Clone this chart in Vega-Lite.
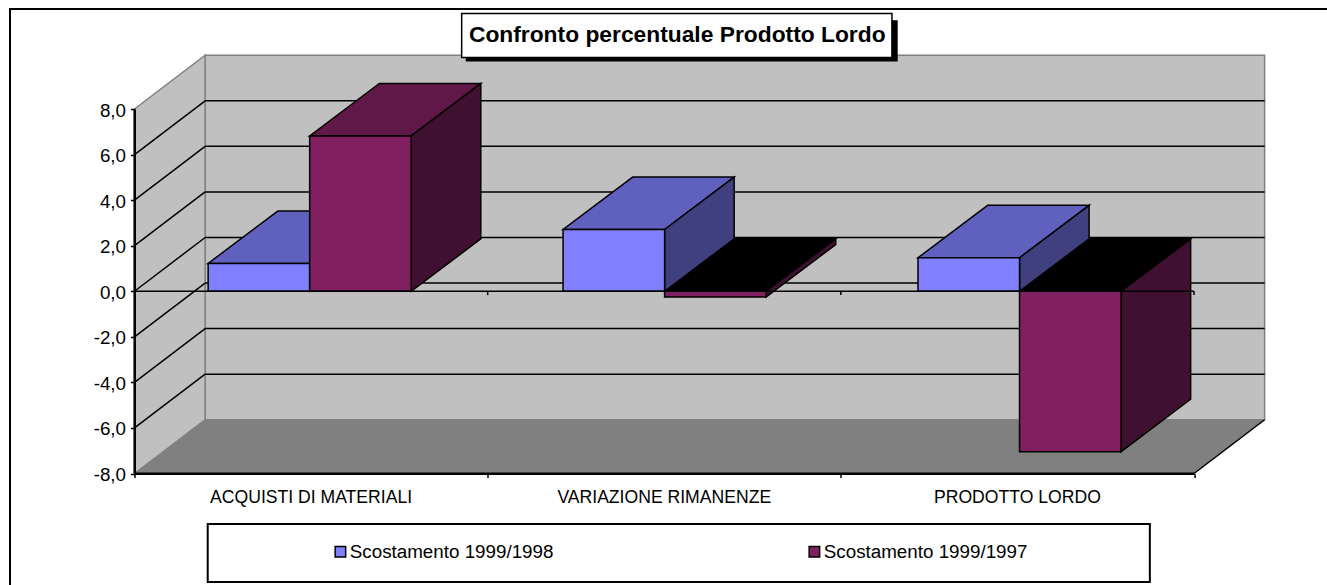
{
"$schema":"https://vega.github.io/schema/vega-lite/v6.json",
"width":1059.5,"height":364.5,
"autosize":{"type":"none"},
"padding":{"left":134.5,"top":109,"right":133,"bottom":111.5},
"background":"white",
"config":{"view":{"stroke":null},"font":"Liberation Sans"},
"title":{"text":"Confronto percentuale Prodotto Lordo","anchor":"middle","frame":"group","dx":13,"offset":-39,"font":"Liberation Sans","fontWeight":"bold","fontSize":22.8,"color":"black"},
"datasets":{
"bars":[
{"categoria":"ACQUISTI DI MATERIALI","serie":"Scostamento 1999/1998","valore":1.22},
{"categoria":"ACQUISTI DI MATERIALI","serie":"Scostamento 1999/1997","valore":6.82},
{"categoria":"VARIAZIONE RIMANENZE","serie":"Scostamento 1999/1998","valore":2.71},
{"categoria":"VARIAZIONE RIMANENZE","serie":"Scostamento 1999/1997","valore":-0.25},
{"categoria":"PRODOTTO LORDO","serie":"Scostamento 1999/1998","valore":1.47},
{"categoria":"PRODOTTO LORDO","serie":"Scostamento 1999/1997","valore":-7.04}
],
"livelli":[{"v":-6},{"v":-4},{"v":-2},{"v":0},{"v":2},{"v":4},{"v":6}],
"estremi":[{"t":0},{"t":1}],
"tacche":[{"c":1},{"c":2},{"c":3}],
"uno":[{"t":0}]
},
"data":{"name":"bars"},
"transform":[
{"calculate":"indexof(['ACQUISTI DI MATERIALI','VARIAZIONE RIMANENZE','PRODOTTO LORDO'],datum.categoria)","as":"i"},
{"calculate":"indexof(['Scostamento 1999/1998','Scostamento 1999/1997'],datum.serie)","as":"s"},
{"calculate":"0.2085+1.005*datum.i+0.2875*datum.s","as":"x0"},
{"calculate":"datum.x0+0.2875","as":"x1"},
{"calculate":"max(datum.valore,0)","as":"alto"},
{"calculate":"min(datum.valore,0)","as":"basso"}
],
"layer":[
{"data":{"name":"uno"},"mark":{"type":"rect","fill":"white","stroke":"black","strokeWidth":2},
"encoding":{
"x":{"datum":-0.3525,"scale":{"domain":[0,3],"nice":false,"zero":false},"axis":{"values":[0,1,2,3],"labels":false,"title":null,"grid":false,"domain":true,"domainColor":"black","domainWidth":2,"tickColor":"black","tickWidth":1.5,"tickSize":4,"zindex":1}},
"x2":{"datum":3.42},
"y":{"datum":12.39,"scale":{"domain":[-8,8],"nice":false,"zero":false},"axis":{"values":[-8,-6,-4,-2,0,2,4,6,8],"labelExpr":"replace(replace(format(datum.value,'.1f'),'.',','),'−','-')","title":null,"grid":false,"domain":true,"domainColor":"black","domainWidth":2,"tickColor":"black","tickWidth":1.5,"tickSize":4,"labelFont":"Liberation Sans","labelFontSize":18.8,"labelColor":"black","labelPadding":5,"labelOffset":1,"zindex":1}},
"y2":{"datum":-13.6}}},
{"data":{"name":"uno"},"mark":{"type":"rect","fill":"#C0C0C0","stroke":"#808080","strokeWidth":1.5},
"encoding":{
"x":{"datum":0.2,"scale":{"domain":[0,3],"nice":false,"zero":false}},"x2":{"datum":3.2},
"y":{"datum":10.36,"scale":{"domain":[-8,8],"nice":false,"zero":false}},"y2":{"datum":-5.64}}},
{"data":{"name":"estremi"},"transform":[{"calculate":"0.2*datum.t","as":"xp"},{"calculate":"-8+2.36*datum.t","as":"yb"},{"calculate":"8+2.36*datum.t","as":"ya"}],
"mark":{"type":"area","fill":"#C0C0C0","stroke":"#808080","strokeWidth":1.5},
"encoding":{
"x":{"field":"xp","type":"quantitative","scale":{"domain":[0,3],"nice":false,"zero":false}},
"y":{"field":"ya","type":"quantitative","scale":{"domain":[-8,8],"nice":false,"zero":false},"stack":null},
"y2":{"field":"yb"}}},
{"data":{"name":"estremi"},"transform":[{"calculate":"0.2*datum.t","as":"xa"},{"calculate":"3+0.2*datum.t","as":"xb"},{"calculate":"-8+2.36*datum.t","as":"yp"}],
"mark":{"type":"area","orient":"horizontal","fill":"#808080","stroke":"#808080","strokeWidth":1},
"encoding":{
"y":{"field":"yp","type":"quantitative","scale":{"domain":[-8,8],"nice":false,"zero":false}},
"x":{"field":"xa","type":"quantitative","scale":{"domain":[0,3],"nice":false,"zero":false},"stack":null},
"x2":{"field":"xb"}}},
{"data":{"name":"uno"},"mark":{"type":"rule","stroke":"black","strokeWidth":1.5},
"encoding":{
"x":{"datum":3,"scale":{"domain":[0,3],"nice":false,"zero":false}},"x2":{"datum":3.2},
"y":{"datum":-8,"scale":{"domain":[-8,8],"nice":false,"zero":false}},"y2":{"datum":-5.64}}},
{"data":{"name":"livelli"},"transform":[{"calculate":"datum.v+2.36","as":"vb"}],"mark":{"type":"rule","stroke":"black","strokeWidth":1.5},
"encoding":{
"x":{"datum":0.2,"scale":{"domain":[0,3],"nice":false,"zero":false}},"x2":{"datum":3.2},
"y":{"field":"vb","type":"quantitative","scale":{"domain":[-8,8],"nice":false,"zero":false}}}},
{"data":{"name":"livelli"},"transform":[{"calculate":"datum.v+2.36","as":"vb"}],"mark":{"type":"rule","stroke":"black","strokeWidth":1.5},
"encoding":{
"x":{"datum":0,"scale":{"domain":[0,3],"nice":false,"zero":false}},"x2":{"datum":0.2},
"y":{"field":"v","type":"quantitative","scale":{"domain":[-8,8],"nice":false,"zero":false}},"y2":{"field":"vb"}}},
{"transform":[{"calculate":"[0,1]","as":"t"},{"flatten":["t"]},{"calculate":"datum.alto+2.3*datum.t","as":"yp"},{"calculate":"datum.x0+0.197*datum.t","as":"xa"},{"calculate":"datum.x1+0.197*datum.t","as":"xb"}],
"mark":{"type":"area","orient":"horizontal","stroke":"black","strokeWidth":1.5},
"encoding":{
"y":{"field":"yp","type":"quantitative","scale":{"domain":[-8,8],"nice":false,"zero":false}},
"x":{"field":"xa","type":"quantitative","scale":{"domain":[0,3],"nice":false,"zero":false},"stack":null},
"x2":{"field":"xb"},
"detail":{"field":"categoria"},
"fill":{"condition":{"test":"datum.valore<0","value":"#000000"},"field":"serie","type":"nominal","scale":{"domain":["Scostamento 1999/1998","Scostamento 1999/1997"],"range":["#6060BF","#601848"]},"legend":null}}},
{"transform":[{"calculate":"[0,1]","as":"t"},{"flatten":["t"]},{"calculate":"datum.alto+2.3*datum.t","as":"ya"},{"calculate":"datum.basso+2.3*datum.t","as":"yb"},{"calculate":"datum.x1+0.197*datum.t","as":"xp"}],
"mark":{"type":"area","stroke":"black","strokeWidth":1.5},
"encoding":{
"x":{"field":"xp","type":"quantitative","scale":{"domain":[0,3],"nice":false,"zero":false}},
"y":{"field":"ya","type":"quantitative","scale":{"domain":[-8,8],"nice":false,"zero":false},"stack":null},
"y2":{"field":"yb"},
"detail":{"field":"categoria"},
"fill":{"field":"serie","type":"nominal","scale":{"domain":["Scostamento 1999/1998","Scostamento 1999/1997"],"range":["#40407F","#401030"]},"legend":null}}},
{"mark":{"type":"rect","stroke":"black","strokeWidth":1.5},
"encoding":{
"x":{"field":"x0","type":"quantitative","scale":{"domain":[0,3],"nice":false,"zero":false}},
"x2":{"field":"x1"},
"y":{"field":"alto","type":"quantitative","scale":{"domain":[-8,8],"nice":false,"zero":false}},
"y2":{"field":"basso"},
"fill":{"field":"serie","type":"nominal","scale":{"domain":["Scostamento 1999/1998","Scostamento 1999/1997"],"range":["#8080FF","#802060"]},
"legend":{"orient":"none","legendX":196.5,"legendY":433,"direction":"horizontal","columns":2,"title":null,"symbolType":"square","symbolSize":110,"symbolStrokeColor":"black","symbolStrokeWidth":1.5,"labelFont":"Liberation Sans","labelFontSize":18.8,"labelColor":"black","labelLimit":400,"columnPadding":251,"labelOffset":0}}}},
{"data":{"name":"uno"},"mark":{"type":"rule","stroke":"black","strokeWidth":1.5},
"encoding":{
"x":{"datum":0,"scale":{"domain":[0,3],"nice":false,"zero":false}},"x2":{"datum":3},
"y":{"datum":0,"scale":{"domain":[-8,8],"nice":false,"zero":false}}}},
{"data":{"name":"tacche"},"mark":{"type":"rule","stroke":"black","strokeWidth":1.5},
"encoding":{
"x":{"field":"c","type":"quantitative","scale":{"domain":[0,3],"nice":false,"zero":false}},
"y":{"datum":0,"scale":{"domain":[-8,8],"nice":false,"zero":false}},"y2":{"datum":-0.17}}},
{"data":{"name":"uno"},"mark":{"type":"rule","stroke":"black","strokeWidth":2},
"encoding":{
"x":{"datum":0,"scale":{"domain":[0,3],"nice":false,"zero":false}},"x2":{"datum":3},
"y":{"datum":-8,"scale":{"domain":[-8,8],"nice":false,"zero":false}}}},
{"data":{"name":"uno"},"mark":{"type":"rule","stroke":"black","strokeWidth":2},
"encoding":{
"x":{"datum":0,"scale":{"domain":[0,3],"nice":false,"zero":false}},
"y":{"datum":-8,"scale":{"domain":[-8,8],"nice":false,"zero":false}},"y2":{"datum":8}}},
{"transform":[{"filter":"datum.s==0"},{"calculate":"datum.i+0.5","as":"xc"}],
"mark":{"type":"text","dy":24,"font":"Liberation Sans","fontSize":17.6,"fill":"black","align":"center","baseline":"middle"},
"encoding":{
"x":{"field":"xc","type":"quantitative","scale":{"domain":[0,3],"nice":false,"zero":false}},
"y":{"datum":-8,"scale":{"domain":[-8,8],"nice":false,"zero":false}},
"text":{"field":"categoria"}}},
{"data":{"name":"uno"},"mark":{"type":"rect","fill":"white","stroke":"black","strokeWidth":2},
"encoding":{
"x":{"datum":0.2073,"scale":{"domain":[0,3],"nice":false,"zero":false}},"x2":{"datum":2.875},
"y":{"datum":-10.215,"scale":{"domain":[-8,8],"nice":false,"zero":false}},"y2":{"datum":-12.76}}},
{"data":{"name":"uno"},"mark":{"type":"rect","fill":"black"},
"encoding":{
"x":{"datum":0.938,"scale":{"domain":[0,3],"nice":false,"zero":false}},"x2":{"datum":2.161},
"y":{"datum":11.9,"scale":{"domain":[-8,8],"nice":false,"zero":false}},"y2":{"datum":10.09}}},
{"data":{"name":"uno"},"mark":{"type":"rect","fill":"white","stroke":"black","strokeWidth":1.5},
"encoding":{
"x":{"datum":0.9264,"scale":{"domain":[0,3],"nice":false,"zero":false}},"x2":{"datum":2.1447},
"y":{"datum":12.195,"scale":{"domain":[-8,8],"nice":false,"zero":false}},"y2":{"datum":10.263}}}
],
"resolve":{"scale":{"fill":"independent"}}
}
